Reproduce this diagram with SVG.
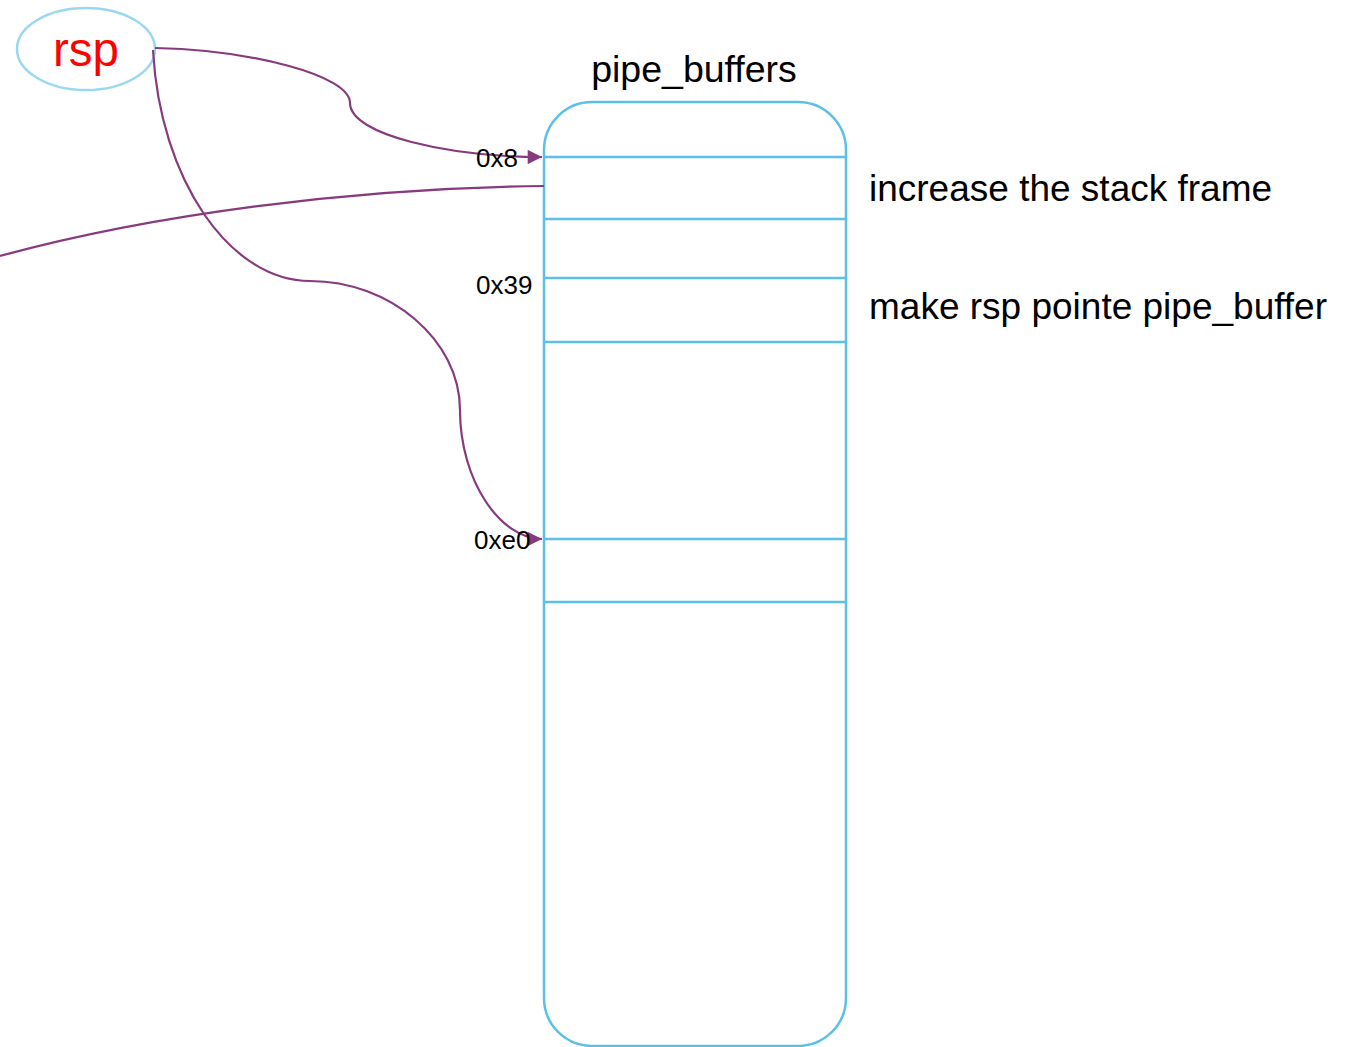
<svg xmlns="http://www.w3.org/2000/svg" width="1353" height="1047" viewBox="0 0 1353 1047">
  <defs>
    <marker id="arrow" viewBox="0 0 10 10" refX="10" refY="5" markerWidth="7" markerHeight="6.5" markerUnits="strokeWidth" orient="auto">
      <path d="M0,0 L10,5 L0,10 z" fill="#873a7e"/>
    </marker>
    <style>
      text { font-family: "Liberation Sans", Arial, sans-serif; fill: #000; }
      .buf { fill: #fff; stroke: #5bc0e8; stroke-width: 2.5; }
      .row { stroke: #5bc0e8; stroke-width: 2.5; fill: none; }
      .edge { fill: none; stroke: #873a7e; stroke-width: 2.2; }
      .off { font-size: 26px; }
      .note { font-size: 37px; }
    </style>
  </defs>
  <rect width="1353" height="1047" fill="#fff"/>

  <!-- pipe_buffers array -->
  <g id="pipe_buffers">
    <text x="694" y="82" font-size="37.5" text-anchor="middle">pipe_buffers</text>
    <rect class="buf" x="544" y="102" width="302" height="944" rx="48" ry="48"/>
    <line class="row" x1="544" y1="157" x2="846" y2="157"/>
    <line class="row" x1="544" y1="219" x2="846" y2="219"/>
    <line class="row" x1="544" y1="278" x2="846" y2="278"/>
    <line class="row" x1="544" y1="342" x2="846" y2="342"/>
    <line class="row" x1="544" y1="539" x2="846" y2="539"/>
    <line class="row" x1="544" y1="602" x2="846" y2="602"/>
  </g>

  <!-- rsp register -->
  <g id="rsp">
    <ellipse cx="86" cy="49" rx="69" ry="41" fill="#fff" stroke="#9ad8ef" stroke-width="2.5"/>
    <text x="86" y="66" font-size="47.5" text-anchor="middle" style="fill:#ff0000">rsp</text>
  </g>

  <!-- connectors -->
  <g id="connectors">
    <path class="edge" marker-end="url(#arrow)" d="M155,48 C250,50 350,75 350,103 C350,135 450,157 542,157"/>
    <path class="edge" d="M0,256 C150,215 350,188 544,186"/>
    <path class="edge" marker-end="url(#arrow)" d="M153,50 C160,180 230,281 310,281 C390,281 460,340 460,410 C460,480 500,539 542,539"/>
  </g>

  <!-- offsets -->
  <g id="offsets">
    <text class="off" x="476" y="167">0x8</text>
    <text class="off" x="476" y="294">0x39</text>
    <text class="off" x="474" y="549">0xe0</text>
  </g>

  <!-- annotations -->
  <g id="notes">
    <text class="note" x="869" y="201">increase the stack frame</text>
    <text class="note" x="869" y="319">make rsp pointe pipe_buffer</text>
  </g>
</svg>
